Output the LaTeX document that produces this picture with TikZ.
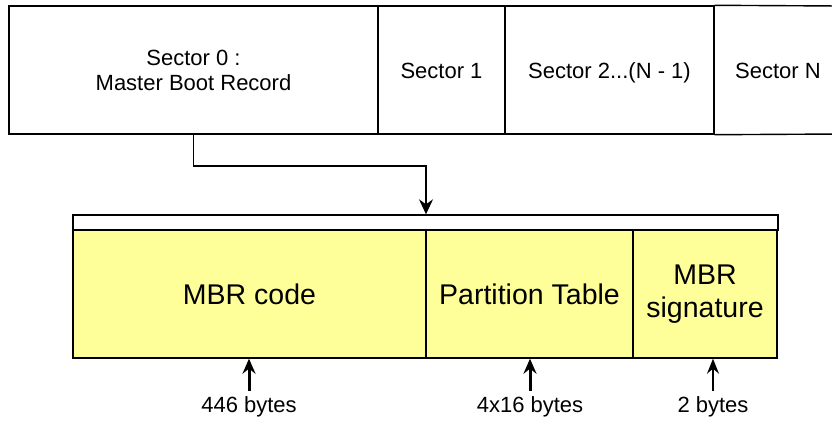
\documentclass[tikz,border=0pt]{standalone}
\usepackage{fontspec}
\setmainfont{Liberation Sans}
\usetikzlibrary{arrows.meta}
\definecolor{mbryellow}{HTML}{FFFF99}
% one line of text boxed to cap height so that it sits on the cell centre
\newcommand{\capline}[1]{\raisebox{0pt}[16pt][0pt]{#1}}
\begin{document}
\begin{tikzpicture}[x=1pt,y=-1pt,
  sector/.style={draw,line width=1.4pt,minimum height=128pt,inner sep=0pt,
    align=center,font=\fontsize{22}{25}\selectfont},
  field/.style={draw,line width=1.4pt,fill=mbryellow,minimum height=128pt,inner sep=0pt,
    align=center,font=\fontsize{28.5}{33}\selectfont},
  sizelbl/.style={inner sep=0pt,font=\fontsize{22}{26}\selectfont},
  arr/.style={line width=1.4pt,-{Stealth[length=15pt,width=14pt,inset=5pt]}},
  thickarr/.style={line width=3pt,-{Stealth[length=15pt,width=13pt,inset=5pt]}},
  thinarr/.style={line width=1.4pt,-{Stealth[length=15pt,width=12pt,inset=5pt]}}]
\useasboundingbox (0,0) rectangle (832,421);
\fill[white] (0,0) rectangle (832,421);

% disk sectors
\node[sector,minimum width=369pt] (s0) at (193.5,70) {Sector 0 :\\Master Boot Record};
\node[sector,minimum width=127pt] (s1) at (441.5,70) {\capline{Sector 1}};
\node[sector,minimum width=209pt] (s2) at (609.5,70) {\capline{Sector 2...(N - 1)}};
\node[sector,draw=none,minimum width=128pt] (sN) at (778,70) {\capline{Sector N}};
\draw[line width=1.4pt] (s2.north east) -- (840,6) (s2.south east) -- (840,134);

% MBR layout
\node[draw,line width=1.4pt,fill=white,minimum width=705pt,minimum height=15pt,inner sep=0pt]
  (strip) at (425.5,222.5) {};
\node[field,minimum width=353pt] (code) at (249.5,294) {MBR code};
\node[field,minimum width=207pt] (pt) at (529.5,294) {Partition Table};
\node[field,minimum width=144pt] (sig) at (705,294) {MBR\\signature};

% sector 0 expands into the MBR layout
\coordinate (bend) at (426,166);
\draw[arr] (s0.south) |- (bend) -- (strip.north -| bend);

% field sizes
\node[sizelbl] (l1) at (249,407) {446 bytes};
\node[sizelbl] (l2) at (530,407) {4x16 bytes};
\node[sizelbl] (l3) at (713,407) {2 bytes};
\draw[thickarr] (l1.north) ++(0,-6) -- (code.south -| l1.north);
\draw[thickarr] (l2.north) ++(0,-6) -- (pt.south -| l2.north);
\draw[thinarr] (l3.north) ++(0,-6) -- (sig.south -| l3.north);
\end{tikzpicture}
\end{document}
